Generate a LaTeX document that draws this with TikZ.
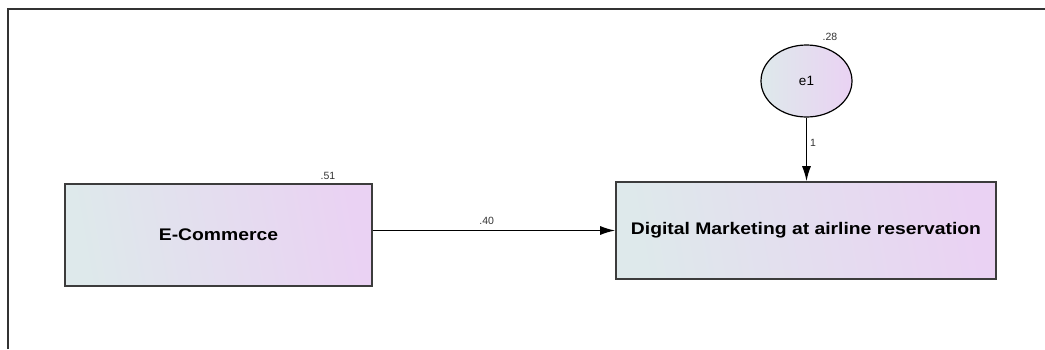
\documentclass[tikz,border=0pt]{standalone}
\usepackage{fontspec}
\usepackage{graphicx}
\setmainfont{Liberation Sans}
\usetikzlibrary{arrows.meta,shapes.geometric}
\definecolor{shL}{RGB}{222,233,235}
\definecolor{shR}{RGB}{234,210,243}
\definecolor{edge}{RGB}{60,60,60}
\tikzset{
  varbox/.style={draw=edge, line width=1.6pt, rectangle, left color=shL, right color=shR, shading angle=100, inner sep=0pt},
  errnode/.style={draw=black, line width=1.2pt, ellipse, left color=shL, right color=shR, inner sep=0pt},
  path/.style={draw=black, line width=1.4pt, -{Latex[length=15pt,width=9pt]}},
  est/.style={font=\fontsize{10.5}{12}\selectfont, inner sep=0pt, text=black!80}
}
\newcommand{\boxtext}[1]{\scalebox{1.15}[1]{\fontsize{16.8}{19}\selectfont\bfseries #1}}
\begin{document}
\begin{tikzpicture}[x=1pt,y=-1pt]
\useasboundingbox (0,0) rectangle (1045,349);
\draw[line width=1.8pt, draw=black!80] (8,349) -- (8,9) -- (1045,9);
\node[varbox, minimum width=307pt, minimum height=102pt] (ec) at (218.5,235) {\boxtext{E-Commerce}};
\node[varbox, minimum width=380pt, minimum height=97pt] (dm) at (806,230.5) {\boxtext{Digital Marketing at airline reservation}};
\node[errnode, minimum width=91pt, minimum height=72pt] (e1) at (806.5,81) {\fontsize{13.5}{15}\selectfont e1};
\draw[path] (ec.east |- dm.west) -- (dm.west) node[est, pos=0.47, above=5pt] (l40) {.40};
\draw[path] (e1.south) -- (e1.south |- dm.north) node[est, pos=0.4, right=3pt] (l1) {1};
\node[est] (l51) at (328,176) {.51};
\node[est] (l28) at (830,37) {.28};
\end{tikzpicture}
\end{document}
